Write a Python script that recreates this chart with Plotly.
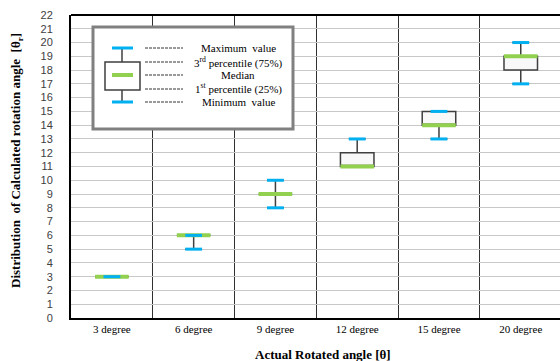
import plotly.graph_objects as go

# ---- data ----
categories = ["3 degree", "6 degree", "9 degree", "12 degree", "15 degree", "20 degree"]
maximum = [3, 6, 10, 13, 15, 20]
q3 = [3, 6, 9, 12, 15, 19]
median = [3, 6, 9, 11, 14, 19]
q1 = [3, 6, 9, 11, 14, 18]
minimum = [3, 5, 8, 11, 13, 17]
y_ticks = list(range(0, 23))

GREEN = "#92d050"
BLUE = "#00b0f0"
BOXLINE = "#3f3f3f"

# plot-area pixel geometry (for the explanatory key only)
L, R, T, B = 71, 560, 15, 318
W, H = 560, 361


def px(x):
    return (x - L) / (R - L)


def py(y):
    return (B - y) / (B - T)


fig = go.Figure()

fig.add_trace(go.Box(
    x=categories, q1=q1, median=median, q3=q3,
    lowerfence=minimum, upperfence=maximum,
    width=0.41, fillcolor="#f8f8f8",
    line=dict(color=BOXLINE, width=1.5),
    boxpoints=False, showlegend=False, hoverinfo="skip",
))
# minimum caps (under median)
fig.add_trace(go.Scatter(
    x=categories, y=minimum, mode="markers", showlegend=False, hoverinfo="skip",
    marker=dict(symbol="line-ew", size=12, line=dict(color=BLUE, width=3)),
))
# medians
fig.add_trace(go.Scatter(
    x=categories, y=median, mode="markers", showlegend=False, hoverinfo="skip",
    marker=dict(symbol="line-ew", size=24, line=dict(color=GREEN, width=4)),
))
# maximum caps
fig.add_trace(go.Scatter(
    x=categories, y=maximum, mode="markers", showlegend=False, hoverinfo="skip",
    marker=dict(symbol="line-ew", size=12, line=dict(color=BLUE, width=3)),
))

shapes = []
# top border of the plot area
shapes.append(dict(type="line", xref="paper", yref="paper", x0=0, x1=1, y0=1, y1=1,
                   line=dict(color="black", width=2)))
# explanatory key frame
shapes.append(dict(type="rect", xref="paper", yref="paper", layer="above",
                   x0=px(93), x1=px(293), y0=py(129), y1=py(27),
                   line=dict(color="#808080", width=3), fillcolor="white"))
# key icon: whiskers
for (ya, yb) in [(48, 62), (90, 102)]:
    shapes.append(dict(type="line", xref="paper", yref="paper", layer="above",
                       x0=px(122), x1=px(122), y0=py(ya), y1=py(yb),
                       line=dict(color=BOXLINE, width=1.5)))
# key icon: box
shapes.append(dict(type="rect", xref="paper", yref="paper", layer="above",
                   x0=px(105), x1=px(140), y0=py(90), y1=py(62),
                   line=dict(color=BOXLINE, width=1.5), fillcolor="white"))
# key icon: caps and median
for yy, col, w in [(48, BLUE, 3), (102, BLUE, 3), (75, GREEN, 4)]:
    shapes.append(dict(type="line", xref="paper", yref="paper", layer="above",
                       x0=px(112), x1=px(133), y0=py(yy), y1=py(yy),
                       line=dict(color=col, width=w)))
key_rows = [48, 62, 75, 89, 102]
key_texts = ["Maximum  value", "3<sup>rd</sup> percentile (75%)", "Median",
             "1<sup>st</sup> percentile (25%)", "Minimum  value"]
annotations = []
for yy, txt in zip(key_rows, key_texts):
    shapes.append(dict(type="line", xref="paper", yref="paper", layer="above",
                       x0=px(145), x1=px(183), y0=py(yy), y1=py(yy),
                       line=dict(color="black", width=0.8, dash="3px,1px")))
    annotations.append(dict(xref="paper", yref="paper", x=px(238), y=py(yy),
                            text=txt, showarrow=False, xanchor="center", yanchor="middle",
                            font=dict(family="Liberation Serif", size=11, color="black")))

# axis titles
annotations.append(dict(xref="paper", yref="paper", x=px(323), y=py(354),
                        text="<b>Actual Rotated angle [θ]</b>", showarrow=False,
                        xanchor="center", yanchor="middle",
                        font=dict(family="Liberation Serif", size=13, color="black")))
annotations.append(dict(xref="paper", yref="paper", x=px(17), y=py(161),
                        text="<b>Distribution  of Calculated rotation angle  [θ<sub>r</sub>]</b>",
                        showarrow=False, textangle=-90,
                        xanchor="center", yanchor="middle",
                        font=dict(family="Liberation Serif", size=13, color="black")))

fig.update_layout(
    width=W, height=H,
    margin=dict(l=L, r=W - R, t=T, b=H - B, autoexpand=False),
    paper_bgcolor="white", plot_bgcolor="white",
    shapes=shapes, annotations=annotations,
    xaxis=dict(
        type="category", categoryorder="array", categoryarray=categories,
        range=[-0.5, 5.48], tickson="boundaries", ticks="", ticklen=0,
        showgrid=True, gridcolor="#303030", gridwidth=1,
        showline=True, linecolor="black", linewidth=2,
        tickfont=dict(family="Liberation Serif", size=11, color="black"),
        zeroline=False, automargin=False,
    ),
    yaxis=dict(
        range=[0, 22], tickvals=y_ticks, ticktext=[str(v) for v in y_ticks],
        showgrid=True, gridcolor="#c8c8c8", gridwidth=1,
        showline=True, linecolor="black", linewidth=2, zeroline=False,
        ticks="", ticklabelstandoff=14, automargin=False,
        tickfont=dict(family="Liberation Sans", size=11, color="#404040"),
    ),
)

fig.write_html("out.html", config={"displayModeBar": False},
               post_script="document.body.style.margin='0';document.body.style.overflow='hidden';")
